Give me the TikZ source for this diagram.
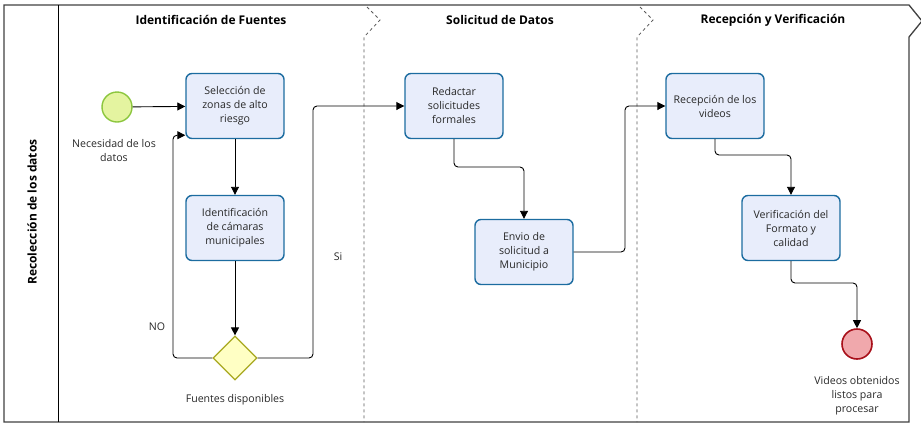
\documentclass[tikz,border=0pt]{standalone}
\usepackage{fontspec}
\setmainfont{Open Sans}
\usepackage{tikz}
\usetikzlibrary{arrows.meta,shapes.geometric,calc}

\definecolor{taskfill}{RGB}{232,237,251}
\definecolor{taskline}{RGB}{28,108,160}
\definecolor{startfill}{RGB}{228,244,160}
\definecolor{startline}{RGB}{140,198,62}
\definecolor{endfill}{RGB}{240,168,172}
\definecolor{endline}{RGB}{168,16,26}
\definecolor{gatefill}{RGB}{255,255,196}
\definecolor{gateline}{RGB}{168,168,32}
\definecolor{txt}{RGB}{40,40,40}

\begin{document}
\begin{tikzpicture}[x=1pt,y=-1pt,
	font=\fontsize{10.6}{14}\selectfont, text=txt,
	task/.style={rectangle,rounded corners=6pt,draw=taskline,line width=1.4pt,fill=taskfill,minimum width=98pt,minimum height=65pt,align=center},
	startev/.style={circle,draw=startline,line width=1.4pt,fill=startfill,minimum size=30pt,inner sep=0pt},
	endev/.style={circle,draw=endline,line width=1.6pt,fill=endfill,minimum size=30pt,inner sep=0pt},
	gate/.style={diamond,draw=gateline,line width=1.2pt,fill=gatefill,minimum width=44pt,minimum height=44pt,inner sep=0pt},
	flow/.style={line width=0.9pt,rounded corners=4pt,-{Triangle[length=8pt,width=8pt]}},
	lbl/.style={align=center},
	head/.style={font=\fontsize{12}{14}\selectfont\bfseries,text=black}]

	\useasboundingbox (0,0) rectangle (921,429);

	% pool and lanes

	\draw[line width=1.3pt,color=black!75] (4,5) -- (909,5) -- (922,21) -- (909,37) -- (909,422) -- (4,422) -- cycle;
	\draw[line width=1pt] (58,5) -- (58,422);
	\draw[dashed,color=black!65,line width=0.8pt] (367,7) -- (380,20) -- (364,37) -- (364,422);
	\draw[dashed,color=black!65,line width=0.8pt] (640,7) -- (653,20) -- (637,37) -- (637,422);

	\node[head,rotate=90] (lane) at (32,212) {Recolección de los datos};
	\node[head] (col1) at (211,20) {Identificación de Fuentes};
	\node[head] (col2) at (500,20) {Solicitud de Datos};
	\node[head] (col3) at (773,20) {Recepción y Verificación};

	% events, tasks and gateway

	\node[startev] (inicio) at (117,107) {};
	\node[lbl] (inicioL) at (114,151) {Necesidad de los\\datos};

	\node[task] (sel) at (235,106) {Selección de\\zonas de alto\\riesgo};
	\node[task] (ident) at (235,228) {Identificación\\de cámaras\\municipales};
	\node[gate] (gw) at (235,358) {};
	\node[lbl] (gwL) at (235,400) {Fuentes disponibles};

	\node[task] (red) at (454,106) {Redactar\\solicitudes\\formales};
	\node[task] (env) at (524,252) {Envio de\\solicitud a\\Municipio};

	\node[task] (rec) at (715,106) {Recepción de los\\videos};
	\node[task] (ver) at (791,228) {Verificación del\\Formato y\\calidad};

	\node[endev] (fin) at (857,344) {};
	\node[lbl] (finL) at (857,396) {Videos obtenidos\\listos para\\procesar};

	\node (no) at (157,327) {NO};
	\node (si) at (338,257) {Si};

	% sequence flows

	\coordinate (noturn) at (173,358);
	\coordinate (siturn) at (313,358);
	\coordinate (b1) at (524,167);
	\coordinate (b2) at (625,252);
	\coordinate (b3) at (791,155);
	\coordinate (b4) at (857,283);

	\draw[flow] (inicio) -- (sel);
	\draw[flow] (sel) -- (ident);
	\draw[flow] (ident) -- (gw);
	\draw[flow] (gw.west) -- (noturn) |- ($(sel.west)!0.88!(sel.south west)$);
	\draw[flow] (gw.east) -- (siturn) |- (red.west);
	\draw[flow] (red.south) |- (b1) -- (env.north);
	\draw[flow] (env.east) -- (b2) |- (rec.west);
	\draw[flow] (rec.south) |- (b3) -- (ver.north);
	\draw[flow] (ver.south) |- (b4) -- (fin.north);

\end{tikzpicture}
\end{document}
